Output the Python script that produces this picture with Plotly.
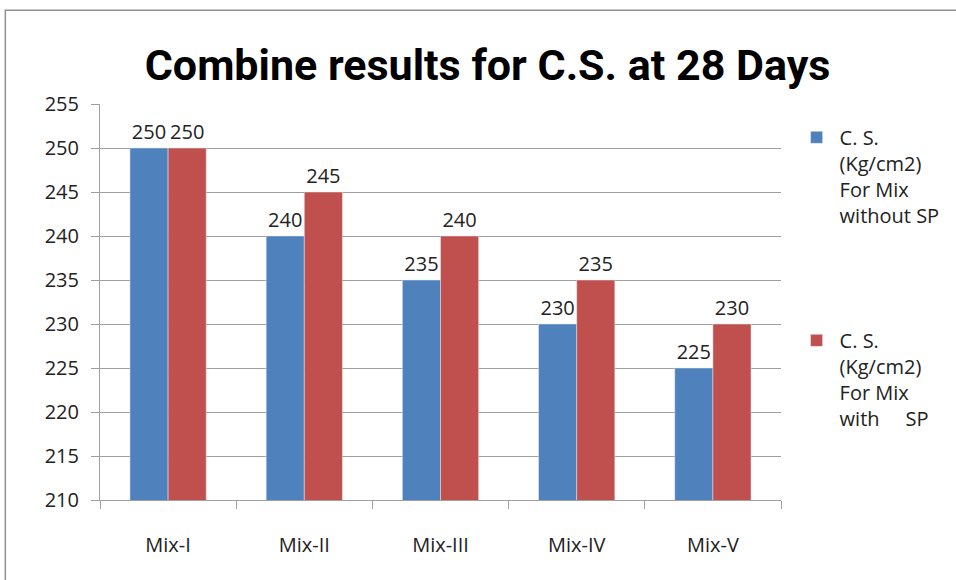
import plotly.graph_objects as go

mixes = ['Mix-I', 'Mix-II', 'Mix-III', 'Mix-IV', 'Mix-V']
without_sp = [250, 240, 235, 230, 225]
with_sp = [250, 245, 240, 235, 230]

label_font = dict(family='Open Sans', size=20, color='#222222')

fig = go.Figure()
fig.add_trace(go.Bar(
    x=mixes, y=without_sp,
    name='C. S.<br>(Kg/cm2)<br>For Mix<br>without SP',
    marker_color='#4F81BD', legendgroup='a',
    text=without_sp, textposition='outside', textfont=label_font,
    cliponaxis=False
))
fig.add_trace(go.Bar(
    x=mixes, y=with_sp,
    name='C. S.<br>(Kg/cm2)<br>For Mix<br>with &nbsp;&nbsp;&nbsp; SP',
    marker_color='#C0504D', legendgroup='b',
    text=with_sp, textposition='outside', textfont=label_font,
    cliponaxis=False
))

fig.update_layout(
    width=956, height=580,
    margin=dict(l=100, r=174, t=104, b=80),
    paper_bgcolor='white', plot_bgcolor='white',
    barmode='group', bargap=0.44, bargroupgap=0,
    title=dict(text='<b>Combine results for C.S. at 28 Days</b>',
               x=0.51, xanchor='center', y=0.888, yanchor='middle',
               font=dict(family='Roboto', size=43, color='black')),
    font=dict(family='Open Sans', size=20, color='#222222'),
    legend=dict(x=1.017, xanchor='left', y=0.965, yanchor='top',
                font=dict(size=20, color='#222222'),
                tracegroupgap=96, traceorder='grouped', valign='top',
                itemwidth=36),
    showlegend=True,
)
fig.update_xaxes(showline=True, linecolor='#A0A0A0', ticks='outside',
                 tickson='boundaries', ticklen=8, tickcolor='#A0A0A0',
                 ticklabelstandoff=27, showgrid=False)
fig.update_yaxes(range=[210, 255], dtick=5, showline=True, linecolor='#A0A0A0',
                 ticks='outside', ticklen=8, tickcolor='#A0A0A0',
                 showgrid=True, gridcolor='#A0A0A0', gridwidth=1,
                 ticklabelstandoff=8, zeroline=False)

fig.add_shape(type='rect', xref='paper', yref='paper',
              x0=-0.139, x1=1.4, y0=-0.3, y1=1.237,
              line=dict(color='#909090', width=1.5), fillcolor='rgba(0,0,0,0)')

fig.write_html('out.html', config={'displayModeBar': False},
               post_script="document.body.style.margin='0';")
